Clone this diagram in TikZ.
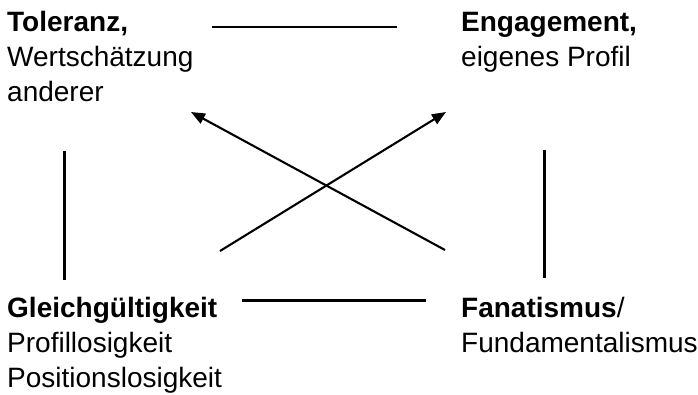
\documentclass[tikz,border=0pt]{standalone}
\usepackage{fontspec}
\setmainfont{Liberation Sans}
\usetikzlibrary{arrows.meta}
\begin{document}
\begin{tikzpicture}[x=1pt,y=-1pt,
  label text/.style={anchor=base west,inner sep=0pt,align=left,
    font=\fontsize{28}{35}\selectfont},
  link/.style={line width=2.4pt},
  cross/.style={line width=2.1pt,-{Triangle[length=14pt,width=11pt]}}]
\useasboundingbox (0,0) rectangle (698,395);
% base anchor of a multi-line node = baseline of its last line
\node[label text] (tol) at (7,102) {\textbf{Toleranz,}\\Wertschätzung\\anderer};
\node[label text] (eng) at (461,67) {\textbf{Engagement,}\\eigenes Profil};
\node[label text] (gle) at (7,387) {\textbf{Gleichgültigkeit}\\Profillosigkeit\\Positionslosigkeit};
\node[label text] (fan) at (461,352) {\textbf{Fanatismus}/\\Fundamentalismus};
\coordinate (t1) at (212,27); \coordinate (t2) at (397,27);
\coordinate (b1) at (242,300.5); \coordinate (b2) at (426,300.5);
\coordinate (l1) at (64.5,151); \coordinate (l2) at (64.5,280);
\coordinate (r1) at (544.5,150); \coordinate (r2) at (544.5,278);
\coordinate (a1s) at (445,250); \coordinate (a1e) at (191,112);
\coordinate (a2s) at (220,251); \coordinate (a2e) at (446,112);
\draw[link] (t1) -- (t2);
\draw[link] (b1) -- (b2);
\draw[link] (l1) -- (l2);
\draw[link] (r1) -- (r2);
\draw[cross] (a1s) -- (a1e);
\draw[cross] (a2s) -- (a2e);
\end{tikzpicture}
\end{document}
